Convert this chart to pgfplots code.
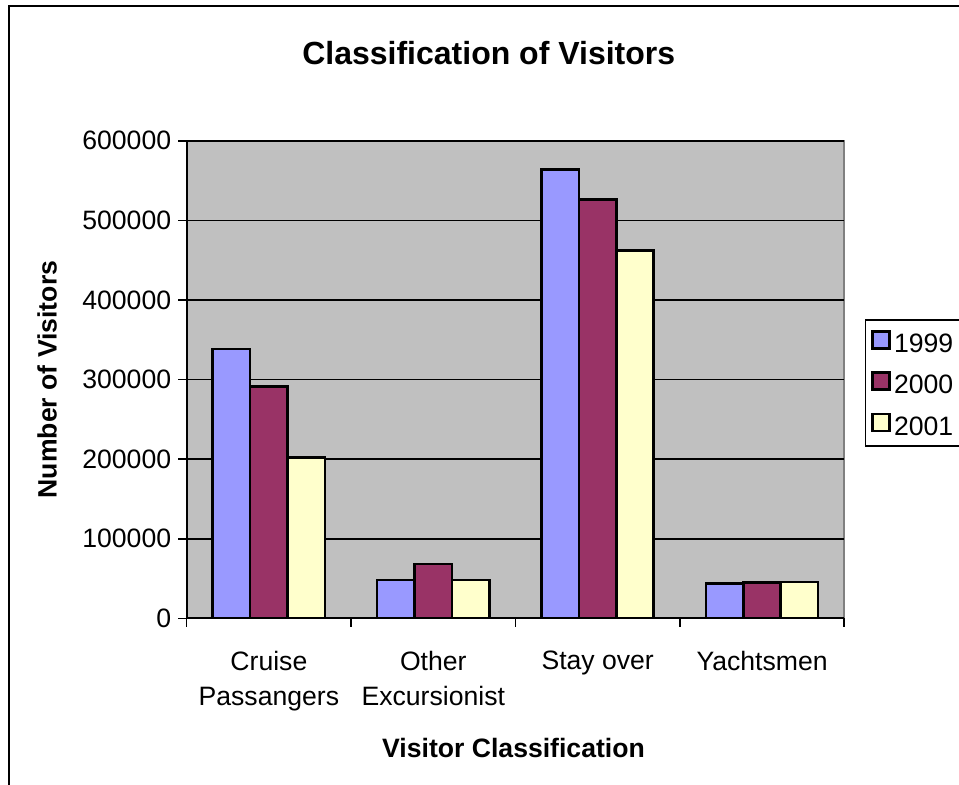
\documentclass[border=0pt]{standalone}
\usepackage{fontspec}
\setmainfont{Liberation Sans}
\usepackage{pgfplots}
\pgfplotsset{compat=1.18}
\definecolor{c99}{RGB}{153,153,255}
\definecolor{c00}{RGB}{153,51,102}
\definecolor{c01}{RGB}{255,255,204}
\definecolor{plotbg}{RGB}{192,192,192}
\definecolor{plotedge}{RGB}{128,128,128}
\newcommand{\lblfont}{\fontsize{13.3}{17.5}\selectfont}
\pgfplotsset{sqlegend/.style={legend image code/.code={\draw[##1] (0pt,-2.75pt) rectangle (8.5pt,5.75pt);}}}
\begin{document}
\begin{tikzpicture}
\useasboundingbox (0,0) rectangle (479.5pt,392pt);
\draw[black,line width=0.9pt] (4.5pt,-20pt) rectangle (500pt,389pt);
\begin{axis}[
  at={(93.35pt,82.85pt)}, anchor=south west,
  scale only axis, width=328.8pt, height=238.8pt,
  ybar=0pt, bar width=18.7pt,
  xmin=-0.5, xmax=3.5, ymin=0, ymax=600000,
  axis x line*=bottom, axis y line*=left,
  axis line style={black, line width=1pt},
  axis background/.style={fill=plotbg, draw=plotedge, line width=1pt},
  ymajorgrids, grid style={black, line width=0.8pt},
  ytick={0,100000,200000,300000,400000,500000,600000},
  scaled y ticks=false,
  yticklabel style={/pgf/number format/fixed, /pgf/number format/1000 sep={}, /pgf/number format/assume math mode=true, font=\lblfont},
  tick align=outside, major tick length=4.25pt,
  tick style={black, line width=0.8pt},
  xtick={-0.5,0.5,1.5,2.5,3.5}, xticklabels={},
  extra x ticks={0,1,2,3},
  extra x tick labels={{Cruise\\Passangers},{Other\\Excursionist},{Stay over},{Yachtsmen}},
  extra x tick style={major tick length=0pt, grid=none, xticklabel style={align=center, font=\lblfont, anchor=north, yshift=-13pt}},
  title={Classification of Visitors},
  title style={font=\fontsize{16}{19}\selectfont\bfseries, at={(axis description cs:0.4593,1.1334)}, anchor=base},
  xlabel={Visitor Classification},
  xlabel style={font=\lblfont\bfseries, at={(axis description cs:0.497,-0.2904)}, anchor=base},
  ylabel={Number of Visitors},
  ylabel style={font=\lblfont\bfseries, at={(axis description cs:-0.2124,0.5)}, anchor=center, rotate=0},
  legend style={at={(axis description cs:1.031,0.626)}, anchor=north west, draw=black, line width=0.8pt, fill=white, font=\lblfont, inner xsep=3pt, inner ysep=5pt, row sep=9pt, column sep=1pt, nodes={inner sep=0.5pt, text height=9.5pt, text depth=0pt}},
  legend cell align=left,
  every axis plot/.append style={draw=black, line width=1.3pt},
]
\addplot[fill=c99, sqlegend] coordinates {(0,338500) (1,48000) (2,564000) (3,44000)};
\addplot[fill=c00, sqlegend] coordinates {(0,291000) (1,68000) (2,526000) (3,45000)};
\addplot[fill=c01, sqlegend] coordinates {(0,202000) (1,48000) (2,462000) (3,45500)};
\legend{1999,2000,2001}
\end{axis}
\end{tikzpicture}
\end{document}
